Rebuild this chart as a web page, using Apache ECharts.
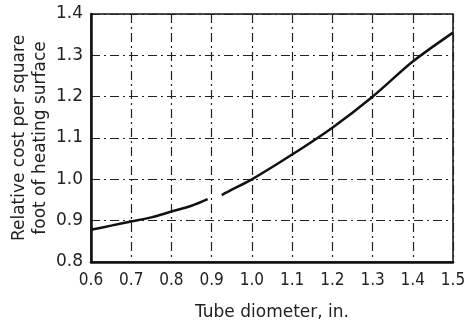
<!DOCTYPE html>
<html>
<head>
<meta charset="utf-8">
<script src="https://cdn.jsdelivr.net/npm/echarts@6/dist/echarts.min.js"></script>
<style>
  html, body { margin: 0; padding: 0; background: #fff; }
  #cost { width: 465px; height: 331px; }
</style>
</head>
<body>
<div id="cost"></div>
<script>
// tube diameter (in.) vs relative cost
// the drawn curve has a small break just before 0.9-0.93
var lowDia = [0.6, 0.65, 0.7, 0.75, 0.8, 0.85, 0.89];
var lowCost = [0.878, 0.888, 0.898, 0.908, 0.922, 0.936, 0.952];
var highDia = [0.925, 0.95, 1.0, 1.1, 1.2, 1.3, 1.4, 1.5];
var highCost = [0.962, 0.975, 1.0, 1.06, 1.125, 1.2, 1.285, 1.355];

var chart = echarts.init(document.getElementById("cost"));

function pairs(xs, ys) {
  return xs.map(function (x, i) { return [x, ys[i]]; });
}

var gridLine = { show: true, lineStyle: { color: "#222", width: 1.2, type: [9, 4, 2, 4] } };

var curve = {
  type: "line",
  smooth: 0.3,
  symbol: "none",
  lineStyle: { color: "#111", width: 2.5 },
  silent: true
};

chart.setOption({
  backgroundColor: "#fff",
  animation: false,
  grid: {
    left: 91, right: 12, top: 14, bottom: 69,
    outerBoundsMode: "none",
    show: true, borderColor: "#111", borderWidth: 1.5
  },
  xAxis: {
    type: "value",
    min: 0.6, max: 1.5, interval: 0.1,
    name: "Tube diometer, in.",
    nameLocation: "middle",
    nameGap: 42,
    nameMoveOverlap: false,
    nameTextStyle: { fontFamily: "DejaVu Sans", fontSize: 17, color: "#222" },
    axisLine: { lineStyle: { color: "#111", width: 2.5 } },
    axisTick: { show: false },
    axisLabel: {
      margin: 10, fontFamily: "DejaVu Sans Condensed", fontSize: 17, color: "#222",
      formatter: function (v) { return v.toFixed(1); }
    },
    splitLine: gridLine
  },
  yAxis: {
    type: "value",
    min: 0.8, max: 1.4, interval: 0.1,
    name: "Relative cost per square\nfoot of heating surface",
    nameLocation: "middle",
    nameRotate: 90,
    nameGap: 40,
    nameMoveOverlap: false,
    nameTextStyle: { fontFamily: "DejaVu Sans", fontSize: 17, lineHeight: 21, color: "#222" },
    axisLine: { show: true, lineStyle: { color: "#111", width: 2.5 } },
    axisTick: { show: false },
    axisLabel: {
      margin: 8, fontFamily: "DejaVu Sans", fontSize: 17, color: "#222",
      formatter: function (v) { return v.toFixed(1); }
    },
    splitLine: gridLine
  },
  series: [
    Object.assign({ data: pairs(lowDia, lowCost) }, curve),
    Object.assign({ data: pairs(highDia, highCost) }, curve)
  ]
});
</script>
</body>
</html>
